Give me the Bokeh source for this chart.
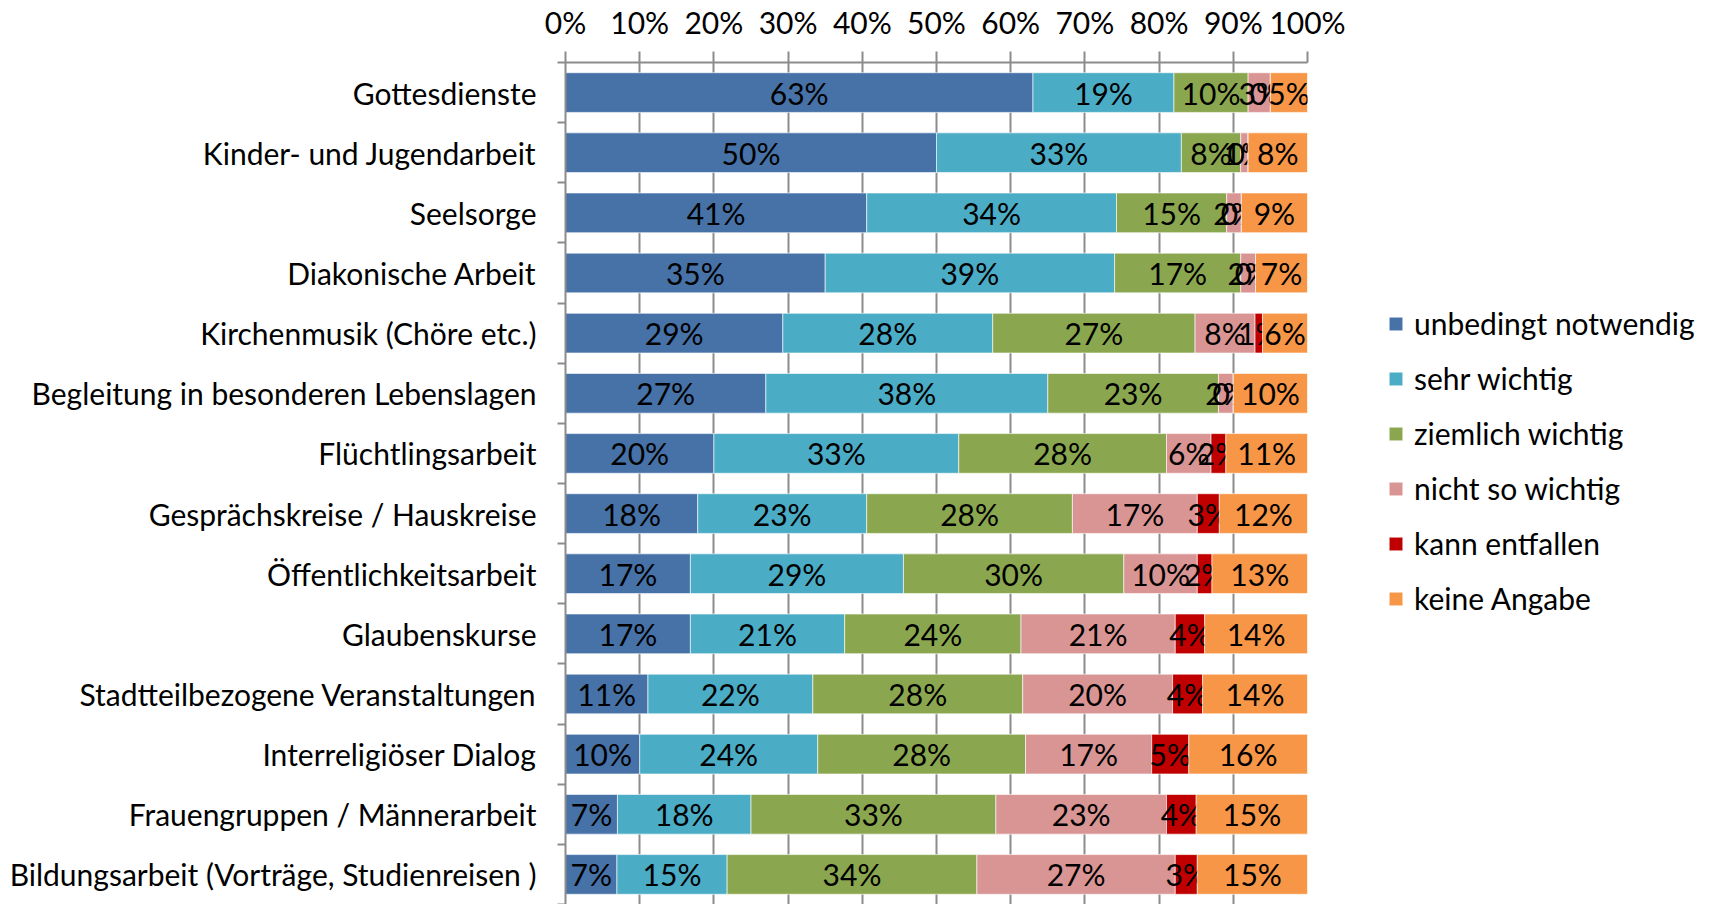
import numpy as np
from bokeh.plotting import figure
from bokeh.models import (ColumnDataSource, Range1d, FixedTicker, SingleIntervalTicker,
                          NumeralTickFormatter, Legend, LegendItem)
from bokeh.core.properties import value
from bokeh.embed import file_html
from bokeh.resources import INLINE

categories = [
    "Gottesdienste",
    "Kinder- und Jugendarbeit",
    "Seelsorge",
    "Diakonische Arbeit",
    "Kirchenmusik (Chöre etc.)",
    "Begleitung in besonderen Lebenslagen",
    "Flüchtlingsarbeit",
    "Gesprächskreise / Hauskreise",
    "Öffentlichkeitsarbeit",
    "Glaubenskurse",
    "Stadtteilbezogene Veranstaltungen",
    "Interreligiöser Dialog",
    "Frauengruppen / Männerarbeit",
    "Bildungsarbeit (Vorträge, Studienreisen )",
]

series_names = ["unbedingt notwendig", "sehr wichtig", "ziemlich wichtig",
                "nicht so wichtig", "kann entfallen", "keine Angabe"]

unbedingt_notwendig = [63, 50, 41, 35, 29, 27, 20, 18, 17, 17, 11, 10, 7, 7]
sehr_wichtig        = [19, 33, 34, 39, 28, 38, 33, 23, 29, 21, 22, 24, 18, 15]
ziemlich_wichtig    = [10, 8, 15, 17, 27, 23, 28, 28, 30, 24, 28, 28, 33, 34]
nicht_so_wichtig    = [3, 1, 2, 2, 8, 2, 6, 17, 10, 21, 20, 17, 23, 27]
kann_entfallen      = [0, 0, 0, 0, 1, 0, 2, 3, 2, 4, 4, 5, 4, 3]
keine_angabe        = [5, 8, 9, 7, 6, 10, 11, 12, 13, 14, 14, 16, 15, 15]

x_ticks_interval = 0.1

colors = ["#4672A8", "#4BACC6", "#8AA74F", "#D99594", "#C00000", "#F79646"]

FONT = "Lato"
FS = "30px"
GRAY = "#8C8C8C"

all_series = [unbedingt_notwendig, sehr_wichtig, ziemlich_wichtig,
              nicht_so_wichtig, kann_entfallen, keine_angabe]
vals = np.array(all_series, dtype=float)           # 6 x n
totals = vals.sum(axis=0)
frac = vals / totals
right = np.cumsum(frac, axis=0)
left = right - frac

n = len(categories)
ypos = [n - 1 - i for i in range(n)]   # top category at top

p = figure(frame_width=742, frame_height=842, x_range=Range1d(0, 1),
           y_range=Range1d(-0.5, n - 0.5), x_axis_location="above",
           output_backend="svg", toolbar_location=None,
           min_border_left=565, min_border_top=62, min_border_bottom=0,
           min_border_right=395)
p.outline_line_color = None
p.background_fill_color = "white"
p.border_fill_color = "white"

legend_items = []
for k, name in enumerate(series_names):
    src = ColumnDataSource(dict(
        y=ypos, left=left[k], right=right[k],
        mid=(left[k] + right[k]) / 2,
        lab=[f"{int(v)}%" for v in all_series[k]],
    ))
    r = p.hbar(y="y", left="left", right="right", height=0.66, source=src,
               fill_color=colors[k], line_color="white", line_width=1, line_alpha=0.6)
    p.text(x="mid", y="y", text="lab", source=src, text_align="center",
           text_baseline="middle", text_font=value(FONT), text_font_size=FS,
           text_color="black")
    legend_items.append(LegendItem(label=name, renderers=[r]))

# x axis (top)
xa = p.xaxis[0]
xa.ticker = SingleIntervalTicker(interval=x_ticks_interval, num_minor_ticks=0)
xa.formatter = NumeralTickFormatter(format="0%")
xa.axis_line_color = GRAY
xa.axis_line_width = 2
xa.major_tick_line_color = GRAY
xa.major_tick_line_width = 2
xa.major_tick_out = 11
xa.major_tick_in = 0
xa.minor_tick_line_color = None
xa.major_label_text_font = FONT
xa.major_label_text_font_size = FS
xa.major_label_text_color = "black"
xa.major_label_standoff = 12

# y axis (left)
ya = p.yaxis[0]
ya.ticker = FixedTicker(ticks=ypos, minor_ticks=[v + 0.5 for v in range(-1, n)])
ya.major_label_overrides = {y: c for y, c in zip(ypos, categories)}
ya.axis_line_color = GRAY
ya.axis_line_width = 2
ya.major_tick_line_color = None
ya.major_tick_out = 0
ya.major_tick_in = 0
ya.minor_tick_line_color = GRAY
ya.minor_tick_line_width = 2
ya.minor_tick_out = 8
ya.minor_tick_in = 0
ya.major_label_text_font = FONT
ya.major_label_text_font_size = FS
ya.major_label_text_color = "black"
ya.major_label_standoff = 21

p.xgrid.ticker = xa.ticker
p.xgrid.grid_line_color = GRAY
p.xgrid.grid_line_width = 2
p.ygrid.visible = False

legend = Legend(items=legend_items, location=(80, 288), orientation="vertical",
                glyph_width=17, glyph_height=17, label_height=36, spacing=19,
                label_standoff=10, padding=0, margin=0,
                label_text_font=FONT, label_text_font_size=FS,
                label_text_color="black", border_line_color=None,
                background_fill_alpha=0)
p.add_layout(legend, "right")

open("out.html", "w").write(file_html(p, INLINE))
